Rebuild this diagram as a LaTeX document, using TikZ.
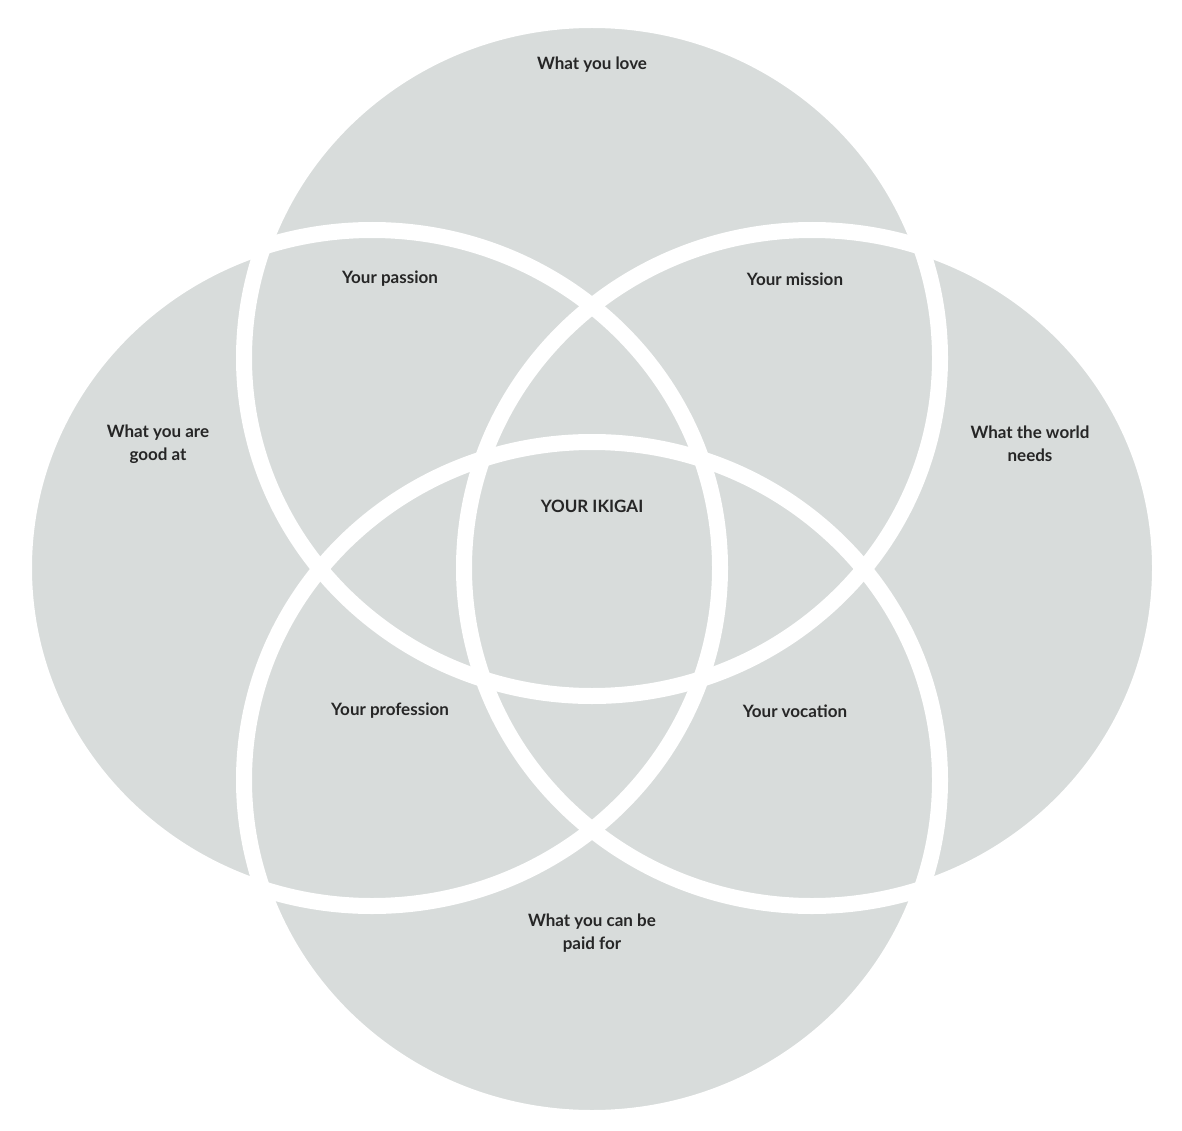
\documentclass[tikz,border=0pt]{standalone}
\usepackage{fontspec}
\setmainfont{Lato}
\begin{document}
\begin{tikzpicture}[x=1pt,y=-1pt,
  lab/.style={font=\bfseries\fontsize{17}{23}\selectfont, text=black!85, align=center},
  ring/.style={draw=white, line width=16pt}]
\useasboundingbox (0,0) rectangle (1182,1131);
\definecolor{vg}{HTML}{D8DCDB}
\foreach \n/\cx/\cy in {top/592/358, left/372/568, right/812/568, bottom/592/780}{
  \coordinate (\n) at (\cx,\cy);
}
\foreach \n in {top,left,right,bottom}
  \fill[vg] (\n) ellipse [x radius=348pt, y radius=338pt];
\foreach \n in {top,left,right,bottom}
  \draw[ring] (\n) ellipse [x radius=348pt, y radius=338pt];
\node[lab] (l1) at (592,65) {What you love};
\node[lab] (l2) at (158,444) {What you are\\good at};
\node[lab] (l3) at (1030,444) {What the world\\needs};
\node[lab] (l4) at (592,933) {What you can be\\paid for};
\node[lab] (p1) at (390,279) {Your passion};
\node[lab] (p2) at (795,279) {Your mission};
\node[lab] (p3) at (390,711) {Your profession};
\node[lab] (p4) at (795,711) {Your vocation};
\node[lab] (c) at (592,506) {YOUR IKIGAI};
\end{tikzpicture}
\end{document}
